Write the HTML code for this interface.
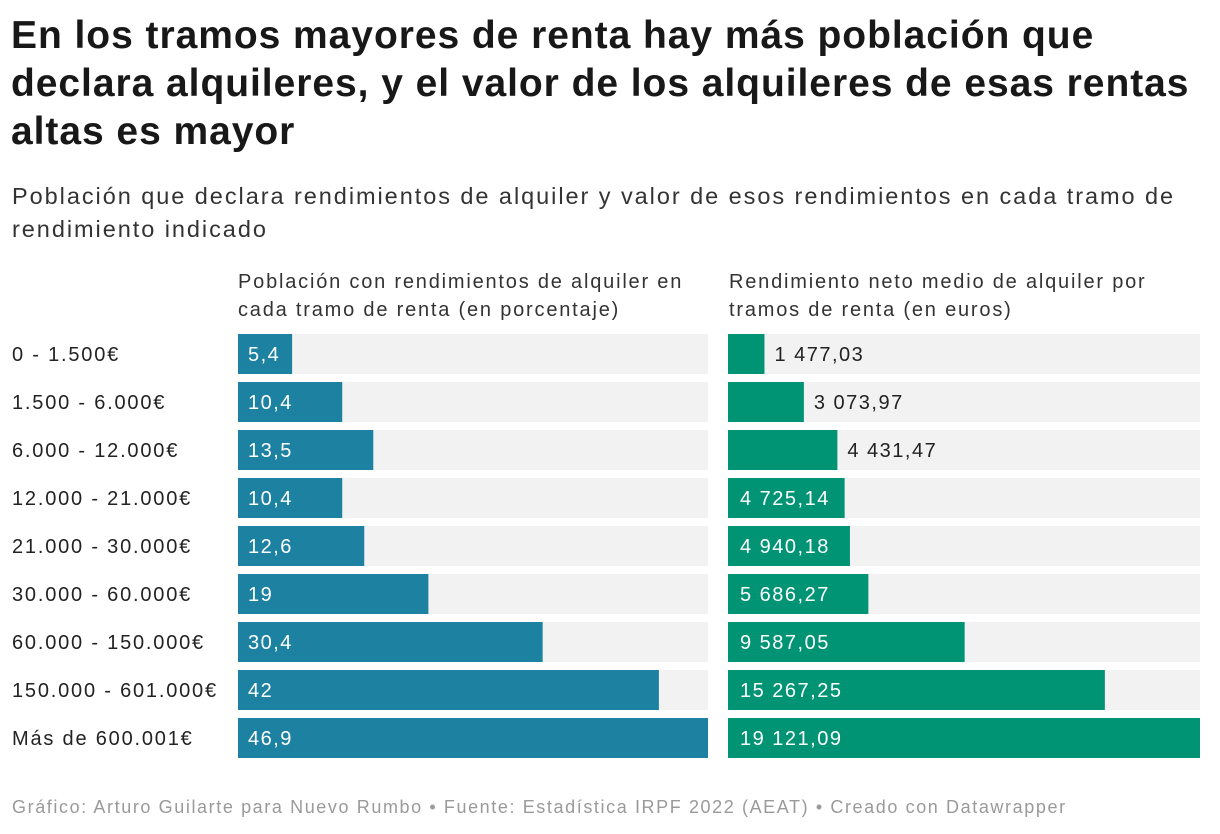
<!DOCTYPE html>
<html><head><meta charset="utf-8"><style>
body{margin:0;width:1220px;height:834px;background:#fff;font-family:"Liberation Sans",Arial,sans-serif;color:#181818;overflow:hidden;position:relative}
h1{position:absolute;left:11px;top:12px;margin:0;font-size:39px;line-height:48px;font-weight:bold;width:1210px;letter-spacing:0.95px;white-space:nowrap}
.sub{position:absolute;left:12px;top:180px;font-size:23.5px;line-height:33px;color:#333;width:1210px;letter-spacing:1.95px;white-space:nowrap}
.hd{position:absolute;top:268px;font-size:20px;line-height:28px;color:#333;letter-spacing:1.8px;white-space:nowrap}
.foot{position:absolute;left:12px;top:797px;font-size:18px;color:#9a9a9a;letter-spacing:1.6px;white-space:nowrap}
svg{position:absolute;left:0;top:0}
svg text{letter-spacing:1.5px}
svg text.lab{letter-spacing:1.8px}
</style></head><body>
<h1>En los tramos mayores de renta hay más población que<br>declara alquileres, y el valor de los alquileres de esas rentas<br>altas es mayor</h1>
<div class="sub">Población que declara rendimientos de alquiler y valor de esos rendimientos en cada tramo de<br>rendimiento indicado</div>
<div class="hd" style="left:238px">Población con rendimientos de alquiler en<br>cada tramo de renta (en porcentaje)</div>
<div class="hd" style="left:729px">Rendimiento neto medio de alquiler por<br>tramos de renta (en euros)</div>
<svg id="chart" width="1220" height="834"></svg>
<div class="foot">Gráfico: Arturo Guilarte para Nuevo Rumbo • Fuente: Estadística IRPF 2022 (AEAT) • Creado con Datawrapper</div>
<script>
const categories=["0 - 1.500€","1.500 - 6.000€","6.000 - 12.000€","12.000 - 21.000€","21.000 - 30.000€","30.000 - 60.000€","60.000 - 150.000€","150.000 - 601.000€","Más de 600.001€"];
const populationPct=[5.4,10.4,13.5,10.4,12.6,19,30.4,42,46.9];
const rentEuros=[1477.03,3073.97,4431.47,4725.14,4940.18,5686.27,9587.05,15267.25,19121.09];
const svg=document.getElementById('chart');
const NS="http://www.w3.org/2000/svg";
function fmtPct(v){return String(v).replace('.',',');}
function fmtEur(v){let p=v.toFixed(2).split('.');return p[0].replace(/\B(?=(\d{3})+(?!\d))/g,' ')+','+p[1];}
const maxP=Math.max(...populationPct),maxE=Math.max(...rentEuros);
const xL=v=>v/maxP*470, xR=v=>v/maxE*472;
const rowY=i=>334+i*48;
function txt(x,y,s,fill){const t=document.createElementNS(NS,'text');t.setAttribute('x',x);t.setAttribute('y',y);t.setAttribute('font-size','20');t.setAttribute('fill',fill);t.textContent=s;svg.appendChild(t);return t;}
function rect(x,y,w,h,fill){const r=document.createElementNS(NS,'rect');r.setAttribute('x',x);r.setAttribute('y',y);r.setAttribute('width',w);r.setAttribute('height',h);r.setAttribute('fill',fill);svg.appendChild(r);return r;}
categories.forEach((c,i)=>{
  const y=rowY(i);
  const l=txt(12,y+27,c,'#222');
  l.setAttribute('class','lab');
  
  
  const b1=rect(238,y,470,40,'#f2f2f2');
  
  
  const b2=rect(728,y,472,40,'#f2f2f2');
  
  
  const wl=xL(populationPct[i]);
  const p=rect(238,y,wl,40,'#1d81a2');
  
  
  const pl=txt(248,y+27,fmtPct(populationPct[i]),'#fff');
  
  
  const wr=xR(rentEuros[i]);
  const e=rect(728,y,wr,40,'#009474');
  
  
  const s=fmtEur(rentEuros[i]);
  const inside=wr>112;
  const el=txt(inside?740:728+wr+10,y+27,s,inside?'#fff':'#222');
  
  
});
</script>
</body></html>
